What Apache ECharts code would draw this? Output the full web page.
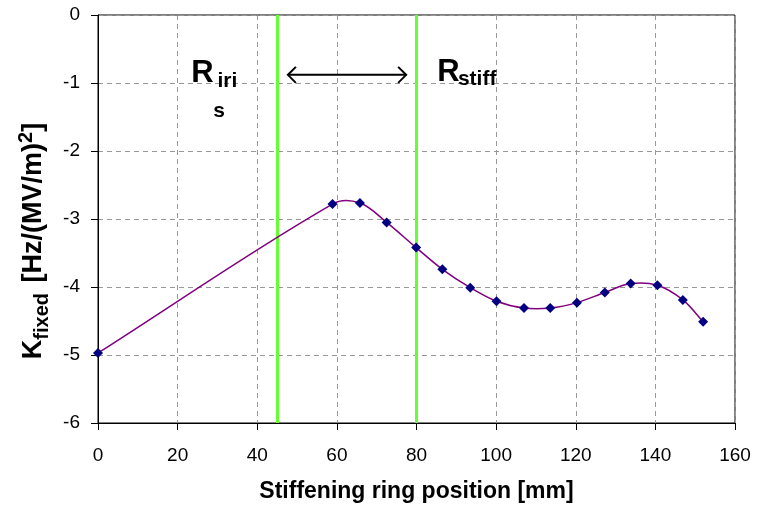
<!DOCTYPE html>
<html>
<head>
<meta charset="utf-8">
<script src="https://cdn.jsdelivr.net/npm/echarts@6/dist/echarts.min.js"></script>
<style>
html,body{margin:0;padding:0;background:#fff;}
#c{width:767px;height:508px;}
</style>
</head>
<body>
<div id="c"></div>
<script>
// ---- data ----
var positions = [0, 58.9, 65.8, 72.5, 79.9, 86.5, 93.5, 100.1, 107.0, 113.6, 120.3, 127.3, 133.8, 140.5, 146.9, 152.0];
var kFixed    = [-4.97, -2.78, -2.765, -3.05, -3.42, -3.74, -4.01, -4.21, -4.31, -4.31, -4.23, -4.08, -3.95, -3.975, -4.19, -4.51];
var markerLines = [45, 80];           // R_iris and R_stiff positions
var xTicks = [0, 20, 40, 60, 80, 100, 120, 140, 160];
var yTicks = [0, -1, -2, -3, -4, -5, -6];
var arrowSpan = [47.7, 77.4, -0.88];  // x from, x to, y (data units)
// annotation anchors in data units: [x, y]
var annRiri = [23.4, -0.853], annIri = [30.0, -0.97], annS = [30.4, -1.41];
var annRstiff = [85.2, -0.838], annStiff = [90.4, -0.94];

var FONT = "'Liberation Sans', Arial, sans-serif";
var chart = echarts.init(document.getElementById('c'), null, {renderer:'canvas'});

var seriesData = positions.map(function(x, i){ return [x, kFixed[i]]; });

// Smoothed curve through the data (tangent = direction of neighbours, handle = 1/3 segment length),
// positioned through the cartesian axes via api.coord.
function unit(v){ var l = Math.sqrt(v[0]*v[0] + v[1]*v[1]) || 1; return [v[0]/l, v[1]/l]; }
function renderCurve(params, api){
  if (params.dataIndex !== 0) return null;
  var pts = seriesData.map(function(p){ return api.coord(p); });
  var n = pts.length;
  var tan = pts.map(function(p, i){
    var a = pts[i - 1] || p, b = pts[i + 1] || p;
    return unit([b[0] - a[0], b[1] - a[1]]);
  });
  var d = 'M' + pts[0][0] + ' ' + pts[0][1];
  for (var i = 0; i < n - 1; i++) {
    var p1 = pts[i], p2 = pts[i + 1];
    var L = Math.sqrt(Math.pow(p2[0]-p1[0],2) + Math.pow(p2[1]-p1[1],2)) / 3;
    var c1x = p1[0] + tan[i][0] * L, c1y = p1[1] + tan[i][1] * L;
    var c2x = p2[0] - tan[i+1][0] * L, c2y = p2[1] - tan[i+1][1] * L;
    d += ' C' + c1x + ' ' + c1y + ' ' + c2x + ' ' + c2y + ' ' + p2[0] + ' ' + p2[1];
  }
  return {type: 'path', shape: {pathData: d}, style: {stroke: '#800080', lineWidth: 1.5, fill: null}};
}

var option = {
  animation: false,
  backgroundColor: '#fff',
  grid: {left: 98, right: 32, top: 15, bottom: 85, show: true, borderColor: '#000', borderWidth: 1},
  xAxis: {
    type: 'value', min: xTicks[0], max: xTicks[xTicks.length-1], interval: 20,
    axisLine: {show: true, onZero: false, lineStyle: {color: '#000', width: 1}},
    axisTick: {show: true, length: 7, lineStyle: {color: '#000'}},
    axisLabel: {fontFamily: FONT, fontSize: 19, color: '#000', margin: 23},
    splitLine: {show: true, lineStyle: {color: '#999', type: [5, 4], width: 1}},
    name: 'Stiffening ring position [mm]',
    nameLocation: 'middle', nameGap: 57,
    nameTextStyle: {fontFamily: FONT, fontSize: 23, fontWeight: 'bold', color: '#000'}
  },
  yAxis: {
    type: 'value', min: yTicks[yTicks.length-1], max: yTicks[0], interval: 1,
    axisLine: {show: true, onZero: false, lineStyle: {color: '#000', width: 1}},
    axisTick: {show: true, length: 7, lineStyle: {color: '#000'}},
    axisLabel: {fontFamily: FONT, fontSize: 19, color: '#000', margin: 18},
    splitLine: {show: true, lineStyle: {color: '#999', type: [5, 4], width: 1}},
    name: '{b|K}{sub|fixed}{b| [Hz/(MV/m)}{sup|2}{b|]}',
    nameLocation: 'middle', nameGap: 46, nameRotate: 90,
    nameTextStyle: {
      fontFamily: FONT, color: '#000', padding: [0, 44, 0, 0],
      rich: {
        b: {fontFamily: FONT, fontSize: 27, fontWeight: 'bold', color: '#000', lineHeight: 36},
        sub: {fontFamily: FONT, fontSize: 20, fontWeight: 'bold', color: '#000', verticalAlign: 'bottom', lineHeight: 18, padding:[0,3,0,0]},
        sup: {fontFamily: FONT, fontSize: 20, fontWeight: 'bold', color: '#000', verticalAlign: 'top', lineHeight: 18}
      }
    }
  },
  series: [
    {
      type: 'custom', coordinateSystem: 'cartesian2d',
      data: seriesData, renderItem: renderCurve, z: 3, silent: true,
      markLine: {
        silent: true, symbol: ['none','none'], label: {show: false},
        lineStyle: {color: '#66ff33', width: 3, type: 'solid'},
        data: markerLines.map(function(v){ return {xAxis: v}; }),
        z: 2
      }
    },
    {
      type: 'scatter', data: seriesData,
      symbol: 'diamond', symbolSize: 10,
      itemStyle: {color: '#000080', opacity: 1}, z: 4
    }
  ]
};
chart.setOption(option);

function px(p){ return chart.convertToPixel({gridIndex:0}, p); }
function drawAnnotations(){
  var a = px([arrowSpan[0], arrowSpan[2]]), b = px([arrowSpan[1], arrowSpan[2]]);
  var h = 8;
  var pR1 = px(annRiri), pI = px(annIri), pS = px(annS), pR2 = px(annRstiff), pSt = px(annStiff);
  var bigStyle = {fontFamily: FONT, fontSize: 31, fontWeight: 'bold', fill: '#000', verticalAlign: 'middle', align: 'left'};
  var subStyle = {fontFamily: FONT, fontSize: 21, fontWeight: 'bold', fill: '#000', verticalAlign: 'middle', align: 'left'};
  chart.setOption({
    graphic: [
      {type:'line', shape:{x1:a[0], y1:a[1], x2:b[0], y2:b[1]}, style:{stroke:'#000', lineWidth:2}, z:10},
      {type:'polyline', shape:{points:[[a[0]+h, a[1]-h],[a[0], a[1]],[a[0]+h, a[1]+h]]}, style:{stroke:'#000', lineWidth:2, fill:null}, z:10},
      {type:'polyline', shape:{points:[[b[0]-h, b[1]-h],[b[0], b[1]],[b[0]-h, b[1]+h]]}, style:{stroke:'#000', lineWidth:2, fill:null}, z:10},
      {type:'text', x:pR1[0], y:pR1[1], style:Object.assign({text:'R'}, bigStyle), z:10},
      {type:'text', x:pI[0], y:pI[1], style:Object.assign({text:'iri'}, subStyle), z:10},
      {type:'text', x:pS[0], y:pS[1], style:Object.assign({text:'s'}, subStyle, {align:'center'}), z:10},
      {type:'text', x:pR2[0], y:pR2[1], style:Object.assign({text:'R'}, bigStyle), z:10},
      {type:'text', x:pSt[0], y:pSt[1], style:Object.assign({text:'stiff'}, subStyle), z:10}
    ]
  });
}
drawAnnotations();
</script>
</body>
</html>
